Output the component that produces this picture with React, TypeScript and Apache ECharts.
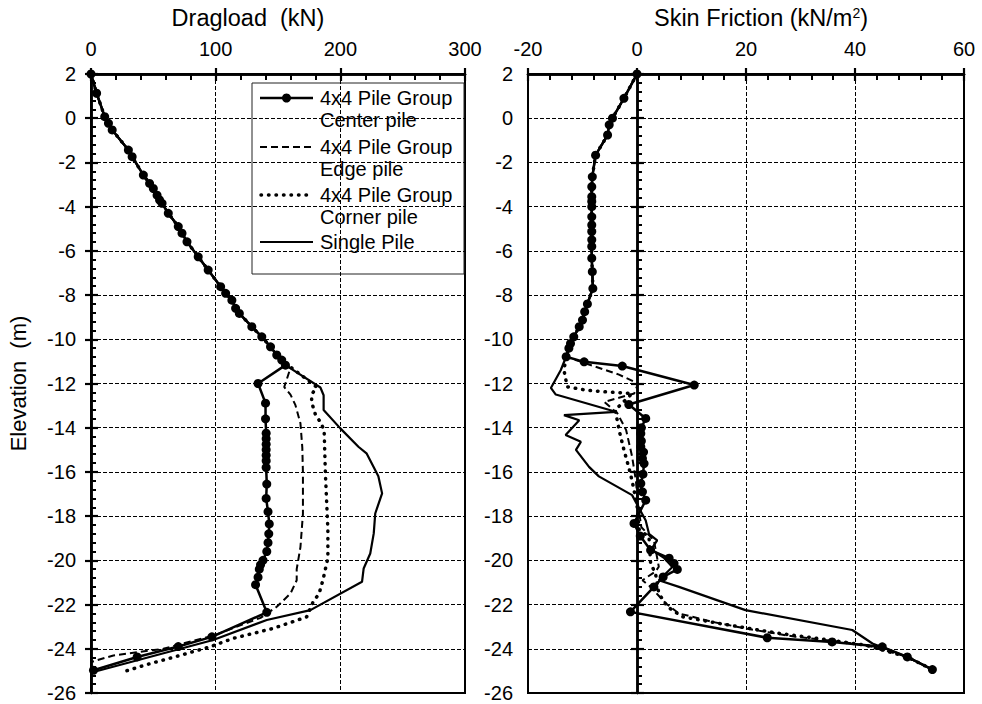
import React, { useEffect, useRef } from 'react';
import * as echarts from 'echarts';

// ---------- Dragload (left panel) ----------
// Shared upper profile (all four curves coincide above about -11 m)
const upperElev = [2, 1.13, 0.07, -0.23, -0.53, -1.44, -1.74, -2.57, -2.95, -3.18, -3.48, -3.7, -3.85, -4.3, -4.9, -5.2, -5.59, -6.27, -6.87, -7.62, -7.92, -8.23, -8.6, -8.83, -9.43, -9.89, -10.34, -10.71, -10.94, -11.17];
const upperLoad = [0, 4.5, 11, 14, 17, 30, 33, 42, 47, 50, 53, 55, 57, 62, 70, 73, 77, 86, 94, 104, 108, 113, 116, 119, 129, 137, 144, 149, 153, 156];

const centerLowElev = [-12.0, -12.89, -13.6, -14.25, -14.5, -14.75, -15.0, -15.25, -15.5, -15.8, -16.55, -17.2, -17.8, -18.35, -18.8, -19.2, -19.6, -20.0, -20.2, -20.4, -20.76, -21.1, -22.35, -23.46, -23.9, -24.37, -24.97];
const centerLowLoad = [134, 140, 140, 140.5, 140.5, 140.5, 140.5, 140.5, 140.5, 140.5, 141, 140.5, 142, 143, 142.6, 142, 141, 138, 136, 135, 134, 132, 141, 97, 70, 37, 2];

const edgeLowElev = [-11.3, -12.16, -12.5, -12.98, -13.8, -14.9, -16.05, -17.9, -19.4, -20.4, -20.9, -21.5, -22.1, -22.6, -23.4, -24.0, -24.3, -24.6];
const edgeLowLoad = [160, 155, 160, 164, 168, 169.5, 170, 170, 168, 165, 165, 160, 149, 136, 98, 58, 18, 0];

const cornerLowElev = [-11.25, -12.16, -12.5, -12.85, -13.4, -13.75, -14.1, -16.05, -18.6, -19.9, -20.9, -21.5, -21.9, -22.56, -23.08, -23.53, -23.9, -24.3, -24.67, -25.04];
const cornerLowLoad = [160, 181, 177, 177, 180, 184, 187, 188, 190, 190, 186, 183, 178, 173, 146, 114, 96, 71.5, 47.4, 26];

const singleLowElev = [-12.18, -12.53, -13.2, -14.03, -14.86, -15.16, -15.77, -16.2, -16.97, -17.88, -18.78, -19.69, -20.37, -20.97, -22.25, -22.7, -23.6, -25.05];
const singleLowLoad = [184, 186.6, 186.6, 200, 214.5, 221, 226.6, 230.5, 233.5, 228, 226.8, 224, 218.7, 217.4, 176, 141, 98, 2];

// ---------- Skin friction (right panel) ----------
const sfUpperElev = [2, 0.9, 0.0, -0.3, -0.76, -1.67, -2.65, -3.1, -3.55, -3.77, -4.0, -4.46, -4.83, -5.13, -5.5, -5.8, -6.33, -6.94, -7.7, -8.4, -8.75, -9.13, -9.43, -9.89, -10.19, -10.4, -10.79];
const sfUpper = [0, -2.4, -4.5, -5.1, -5.4, -7.6, -8.2, -8.3, -8.3, -8.3, -8.3, -8.3, -8.3, -8.3, -8.3, -8.3, -8.3, -8.2, -8.1, -9.1, -9.6, -10.0, -10.6, -11.6, -12.2, -12.5, -13.0];

const sfCenterElev = [-11.02, -11.21, -12.07, -12.95, -13.58, -14.0, -14.26, -14.6, -14.86, -15.1, -15.39, -15.62, -16.1, -16.52, -16.9, -17.28, -18.33, -18.9, -19.54, -19.9, -20.14, -20.41, -20.75, -21.2, -22.33, -23.5, -23.69, -23.91, -24.37, -24.94];
const sfCenter = [-9.7, -2.7, 10.5, -1.5, 1.6, 0.8, 0.7, 0.8, 0.7, 1.2, 1.0, 1.3, 1.1, 0.7, 1.0, 1.6, -0.55, 0.6, 2.5, 5.9, 6.8, 7.4, 4.8, 3.1, -1.2, 23.9, 35.8, 45, 49.6, 54.2];

const sfEdgeElev = [-11.24, -11.6, -12.0, -12.45, -12.83, -13.35, -14.1, -15.3, -16.4, -17.5, -18.5, -19.09, -20.29, -20.5, -20.9, -21.2, -21.95, -22.4, -22.78, -23.08, -23.46, -23.69, -23.91, -24.37, -24.94];
const sfEdge = [-7.6, -3.3, 0.2, -0.5, -6.0, -3.6, -2.0, -0.9, -0.2, 0.2, 0.8, 3.1, 4.0, 3.4, 1.0, 2.5, 5.3, 7.7, 13.8, 19.9, 29.1, 37.7, 43.2, 49.6, 54.2];

const sfCornerElev = [-11.4, -12.15, -12.3, -12.38, -12.45, -13.2, -14.2, -15.0, -15.8, -16.4, -17.5, -18.6, -18.94, -20.14, -20.6, -21.5, -22.1, -22.55, -22.85, -23.3, -23.6, -23.84, -24.37, -24.94];
const sfCorner = [-13.4, -12.8, -9.4, -5.7, -0.9, -4.0, -3.2, -2.4, -1.5, -0.9, 0.0, 0.4, 2.2, 2.5, 3.4, 4.0, 5.6, 8.3, 15, 26, 35.2, 42, 49.6, 54.2];

const sfSingleElev = [-11.4, -12.2, -12.5, -13.28, -13.43, -13.66, -14.33, -14.64, -15.0, -15.77, -16.2, -17.05, -18.2, -18.8, -19.1, -19.5, -19.9, -20.3, -20.9, -21.2, -22.25, -23.15, -23.76, -24.37, -24.94];
const sfSingle = [-14, -15.8, -14.9, -3.9, -13.4, -10.6, -13.1, -10.3, -11.2, -8.8, -7.0, -0.9, 1.6, 2.2, 3.7, 2.6, 5.0, 6.5, 4.0, 7.7, 19.9, 39.5, 43.2, 49.6, 54.2];

const seriesNames = ['4x4 Pile Group\nCenter pile', '4x4 Pile Group\nEdge pile', '4x4 Pile Group\nCorner pile', 'Single Pile'];

const FONT = "'Liberation Sans', Arial, Helvetica, sans-serif";

function pairs(xs: number[], ys: number[]) {
  return xs.map((x, i) => [x, ys[i]]);
}

const black = '#000';

function mainX(gridIndex: number, min: number, max: number, interval: number, name: string, padding: number[]) {
  return {
    type: 'value', gridIndex, position: 'top', min, max, interval,
    name, nameLocation: 'middle', nameGap: 44,
    nameTextStyle: {
      color: black, fontSize: 23.5, fontFamily: FONT, padding,
      rich: { sup: { fontSize: 14, fontFamily: FONT, color: black, verticalAlign: 'top', padding: [0, 0, 10, 0] } },
    },
    axisLine: { show: true, onZero: false, lineStyle: { color: black, width: 2.5 } },
    axisTick: { show: true, inside: true, length: 7, lineStyle: { color: black, width: 2.2 } },
    minorTick: { show: true, splitNumber: 5, length: 6, lineStyle: { color: black, width: 2 } },
    axisLabel: { color: black, fontSize: 20, fontFamily: FONT, margin: 15 },
    splitLine: { show: true, lineStyle: { color: black, width: 1, type: [4, 2] } },
  };
}
function outerX(gridIndex: number, min: number, max: number, interval: number) {
  return {
    type: 'value', gridIndex, position: 'top', min, max, interval,
    axisLine: { show: true, onZero: false, lineStyle: { color: black, width: 2.5 } },
    axisTick: { show: true, inside: false, length: 6, lineStyle: { color: black, width: 2.2 } },
    axisLabel: { show: false },
    splitLine: { show: false },
  };
}
function mainY(gridIndex: number, onZero: boolean, name: string) {
  return {
    type: 'value', gridIndex, position: 'left', min: -26, max: 2, interval: 2,
    name, nameLocation: 'middle', nameGap: 62,
    nameTextStyle: { color: black, fontSize: 22, fontFamily: FONT },
    axisLine: { show: true, onZero, lineStyle: { color: black, width: 2.5 } },
    axisTick: { show: true, inside: true, length: 7, lineStyle: { color: black, width: 2.2 } },
    minorTick: { show: true, splitNumber: 5, length: 5, lineStyle: { color: black, width: 2 } },
    axisLabel: { color: black, fontSize: 20, fontFamily: FONT, margin: 15 },
    splitLine: { show: true, lineStyle: { color: black, width: 1, type: [4, 2] } },
  };
}
function outerY(gridIndex: number, onZero: boolean) {
  return {
    type: 'value', gridIndex, position: 'left', min: -26, max: 2, interval: 2,
    axisLine: { show: true, onZero, lineStyle: { color: black, width: 2.5 } },
    axisTick: { show: true, inside: false, length: 6, lineStyle: { color: black, width: 2.2 } },
    axisLabel: { show: false },
    splitLine: { show: false },
  };
}

const centerStyle = { type: 'line', symbol: 'circle', symbolSize: 9, showSymbol: true, z: 5,
  itemStyle: { color: black }, lineStyle: { color: black, width: 2.5 } };
const edgeStyle = { type: 'line', symbol: 'none', showSymbol: false, z: 3,
  lineStyle: { color: black, width: 2, type: [7, 4] } };
const cornerStyle = { type: 'line', symbol: 'none', showSymbol: false, z: 3,
  lineStyle: { color: black, width: 3.5, type: [0.5, 7], cap: 'round' } };
const singleStyle = { type: 'line', symbol: 'none', showSymbol: false, z: 4,
  lineStyle: { color: black, width: 2.2 } };

export default function App() {
  const ref = useRef<HTMLDivElement>(null);
  useEffect(() => {
    if (!ref.current) return;
    const chart = echarts.init(ref.current, undefined, { renderer: 'svg' });

    const leftCenter = pairs(upperLoad.concat(centerLowLoad), upperElev.concat(centerLowElev));
    const leftEdge = pairs(upperLoad.concat(edgeLowLoad), upperElev.concat(edgeLowElev));
    const leftCorner = pairs(upperLoad.concat(cornerLowLoad), upperElev.concat(cornerLowElev));
    const leftSingle = pairs(upperLoad.concat(singleLowLoad), upperElev.concat(singleLowElev));

    const rightCenter = pairs(sfUpper.concat(sfCenter), sfUpperElev.concat(sfCenterElev));
    const rightEdge = pairs(sfUpper.concat(sfEdge), sfUpperElev.concat(sfEdgeElev));
    const rightCorner = pairs(sfUpper.concat(sfCorner), sfUpperElev.concat(sfCornerElev));
    const rightSingle = pairs(sfUpper.concat(sfSingle), sfUpperElev.concat(sfSingleElev));

    const txt = (text: string, x: number, y: number) => ({
      type: 'text', x, y,
      style: { text, fill: black, fontSize: 20, fontFamily: FONT, lineHeight: 22, verticalAlign: 'top' },
    });

    const option: any = {
      animation: false,
      backgroundColor: '#fff',
      grid: [
        { left: 91, top: 74, width: 374, height: 619, show: true, borderColor: black, borderWidth: 2 },
        { left: 528, top: 74, width: 436, height: 619, show: true, borderColor: black, borderWidth: 2 },
      ],
      xAxis: [
        mainX(0, 0, 300, 100, 'Dragload  (kN)', [0, 60, 0, 0]),
        outerX(0, 0, 300, 100),
        mainX(1, -20, 60, 20, 'Skin Friction (kN/m{sup|2})', [0, 0, 0, 30]),
        outerX(1, -20, 60, 20),
      ],
      yAxis: [
        mainY(0, false, 'Elevation  (m)'),
        outerY(0, false),
        mainY(1, true, ''),
        outerY(1, true),
      ],
      series: [
        { ...singleStyle, name: seriesNames[3], xAxisIndex: 0, yAxisIndex: 0, data: leftSingle },
        { ...cornerStyle, name: seriesNames[2], xAxisIndex: 0, yAxisIndex: 0, data: leftCorner },
        { ...edgeStyle, name: seriesNames[1], xAxisIndex: 0, yAxisIndex: 0, data: leftEdge },
        { ...centerStyle, name: seriesNames[0], xAxisIndex: 0, yAxisIndex: 0, data: leftCenter },
        { ...singleStyle, name: seriesNames[3], xAxisIndex: 2, yAxisIndex: 2, data: rightSingle },
        { ...cornerStyle, name: seriesNames[2], xAxisIndex: 2, yAxisIndex: 2, data: rightCorner },
        { ...edgeStyle, name: seriesNames[1], xAxisIndex: 2, yAxisIndex: 2, data: rightEdge },
        { ...centerStyle, name: seriesNames[0], xAxisIndex: 2, yAxisIndex: 2, data: rightCenter },
      ],
      graphic: [
        {
          type: 'group', x: 252, y: 83, z: 20,
          children: [
            { type: 'rect', shape: { x: 0, y: 0, width: 212, height: 191 }, style: { fill: '#fff', stroke: '#222', lineWidth: 1 } },
            { type: 'line', shape: { x1: 8, y1: 15, x2: 61, y2: 15 }, style: { stroke: black, lineWidth: 2.5 } },
            { type: 'circle', shape: { cx: 34.5, cy: 15, r: 4.5 }, style: { fill: black } },
            txt(seriesNames[0], 68, 4),
            { type: 'line', shape: { x1: 8, y1: 64, x2: 61, y2: 64 }, style: { stroke: black, lineWidth: 2, lineDash: [7, 4] } },
            txt(seriesNames[1], 68, 53),
            { type: 'line', shape: { x1: 9, y1: 112, x2: 61, y2: 112 }, style: { stroke: black, lineWidth: 3.5, lineDash: [0.5, 7], lineCap: 'round' } },
            txt(seriesNames[2], 68, 101),
            { type: 'line', shape: { x1: 8, y1: 159, x2: 61, y2: 159 }, style: { stroke: black, lineWidth: 2.2 } },
            txt(seriesNames[3], 68, 148),
          ],
        },
      ],
    };
    chart.setOption(option);
    return () => chart.dispose();
  }, []);
  return <div ref={ref} style={{ position: 'fixed', left: 0, top: 0, width: 982, height: 704, background: '#fff' }} />;
}
